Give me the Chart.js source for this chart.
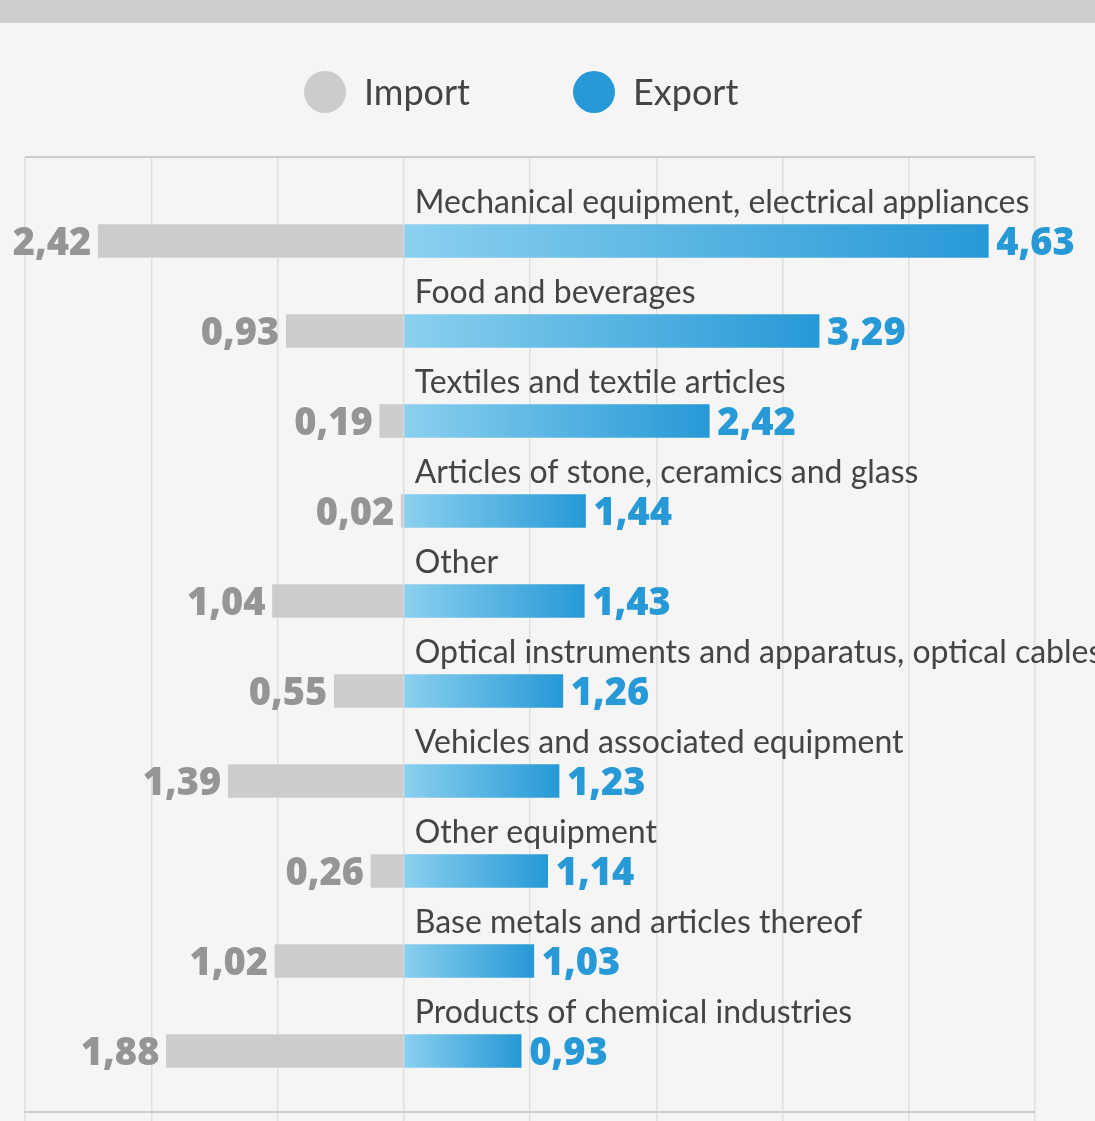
<!DOCTYPE html>
<html lang="en">
<head>
  <meta charset="UTF-8">
  <title>Import / Export</title>
  <script src="https://cdn.jsdelivr.net/npm/chart.js"></script>
  <style>
    html, body { margin: 0; padding: 0; background: #f5f5f5; overflow: hidden; }
    .band { position: absolute; left: 0; top: 0; width: 100%; height: 23px; background: #cdcdcd; }
    .wrap { position: relative; width: 1095px; height: 1121px; }
  </style>
</head>
<body>
  <div class="wrap">
    <canvas id="tradeChart" width="1095" height="1121"></canvas>
    <div class="band"></div>
  </div>

  <script>
    const categories = [
      "Mechanical equipment, electrical appliances",
      "Food and beverages",
      "Textiles and textile articles",
      "Articles of stone, ceramics and glass",
      "Other",
      "Optical instruments and apparatus, optical cables",
      "Vehicles and associated equipment",
      "Other equipment",
      "Base metals and articles thereof",
      "Products of chemical industries"
    ];
    const importValues = [2.42, 0.93, 0.19, 0.02, 1.04, 0.55, 1.39, 0.26, 1.02, 1.88];
    const exportValues = [4.63, 3.29, 2.42, 1.44, 1.43, 1.26, 1.23, 1.14, 1.03, 0.93];
    const xTicks = [-3, -2, -1, 0, 1, 2, 3, 4, 5];

    const FONT = "Lato";
    const VALUE_FONT = "'Open Sans'";
    const GREY = "#cccccc";
    const BLUE = "#2699d6";
    const LIGHT_BLUE = "#8bd0ef";

    const fmt = v => v.toFixed(2).replace(".", ",");

    function exportGradient(ctx) {
      const chart = ctx.chart;
      if (!chart.chartArea || ctx.type !== "data") return BLUE;
      const x = chart.scales.x;
      const x0 = x.getPixelForValue(0);
      const x1 = x.getPixelForValue(exportValues[ctx.dataIndex]);
      const g = chart.ctx.createLinearGradient(x0, 0, x1, 0);
      g.addColorStop(0, LIGHT_BLUE);
      g.addColorStop(1, BLUE);
      return g;
    }

    const labelsPlugin = {
      id: "labels",
      afterDraw(chart) {
        const { ctx, scales: { x, y }, chartArea } = chart;
        ctx.save();

        // top frame line
        ctx.strokeStyle = "#cccccc";
        ctx.lineWidth = 2;
        ctx.beginPath();
        ctx.moveTo(chartArea.left, chartArea.top);
        ctx.lineTo(chartArea.right, chartArea.top);
        ctx.stroke();

        const x0 = x.getPixelForValue(0);
        categories.forEach((name, i) => {
          const cy = y.getPixelForValue(i);
          ctx.font = "32px " + FONT;
          ctx.fillStyle = "#444444";
          ctx.textAlign = "left";
          ctx.textBaseline = "alphabetic";
          ctx.fillText(name, x0 + 11, cy - 28);

          ctx.font = "800 38px " + VALUE_FONT;
          ctx.fillStyle = "#959595";
          ctx.textAlign = "right";
          ctx.fillText(fmt(importValues[i]), x.getPixelForValue(-importValues[i]) - 7, cy + 14);
          ctx.fillStyle = BLUE;
          ctx.textAlign = "left";
          ctx.fillText(fmt(exportValues[i]), x.getPixelForValue(exportValues[i]) + 8, cy + 14);
        });

        // legend
        const items = chart.data.datasets.map(d => ({ text: d.label, color: d.legendColor }));
        ctx.font = "36px " + FONT;
        ctx.textAlign = "left";
        let lx = 304;
        const ly = 92;
        items.forEach(it => {
          ctx.fillStyle = it.color;
          ctx.beginPath();
          ctx.arc(lx + 21, ly, 21, 0, Math.PI * 2);
          ctx.fill();
          ctx.fillStyle = "#444444";
          ctx.fillText(it.text, lx + 60, ly + 13);
          lx += 60 + ctx.measureText(it.text).width + 103;
        });
        ctx.restore();
      }
    };

    new Chart(document.getElementById("tradeChart"), {
      type: "bar",
      data: {
        datasets: [
          {
            label: "Import",
            legendColor: GREY,
            data: importValues.map((v, i) => ({ x: -v, y: i })),
            backgroundColor: GREY
          },
          {
            label: "Export",
            legendColor: BLUE,
            data: exportValues.map((v, i) => ({ x: v, y: i })),
            backgroundColor: exportGradient
          }
        ]
      },
      plugins: [labelsPlugin],
      options: {
        indexAxis: "y",
        responsive: false,
        animation: false,
        layout: { padding: { top: 157, left: 25, right: 60, bottom: 0 } },
        datasets: { bar: { grouped: false, barThickness: 33, borderWidth: 0 } },
        plugins: { legend: { display: false }, tooltip: { enabled: false } },
        scales: {
          x: {
            type: "linear",
            min: xTicks[0],
            max: xTicks[xTicks.length - 1],
            z: 1,
            afterBuildTicks: s => { s.ticks = xTicks.map(v => ({ value: v })); },
            ticks: { display: false },
            grid: { color: "rgba(0,0,0,0.085)", lineWidth: 1.5, tickLength: 9 },
            border: { display: true, color: "#cccccc", width: 2 }
          },
          y: {
            type: "linear",
            reverse: true,
            offset: false,
            grid: { offset: false },
            min: -0.933,
            max: 9.678,
            display: false
          }
        }
      }
    });
  </script>
</body>
</html>
